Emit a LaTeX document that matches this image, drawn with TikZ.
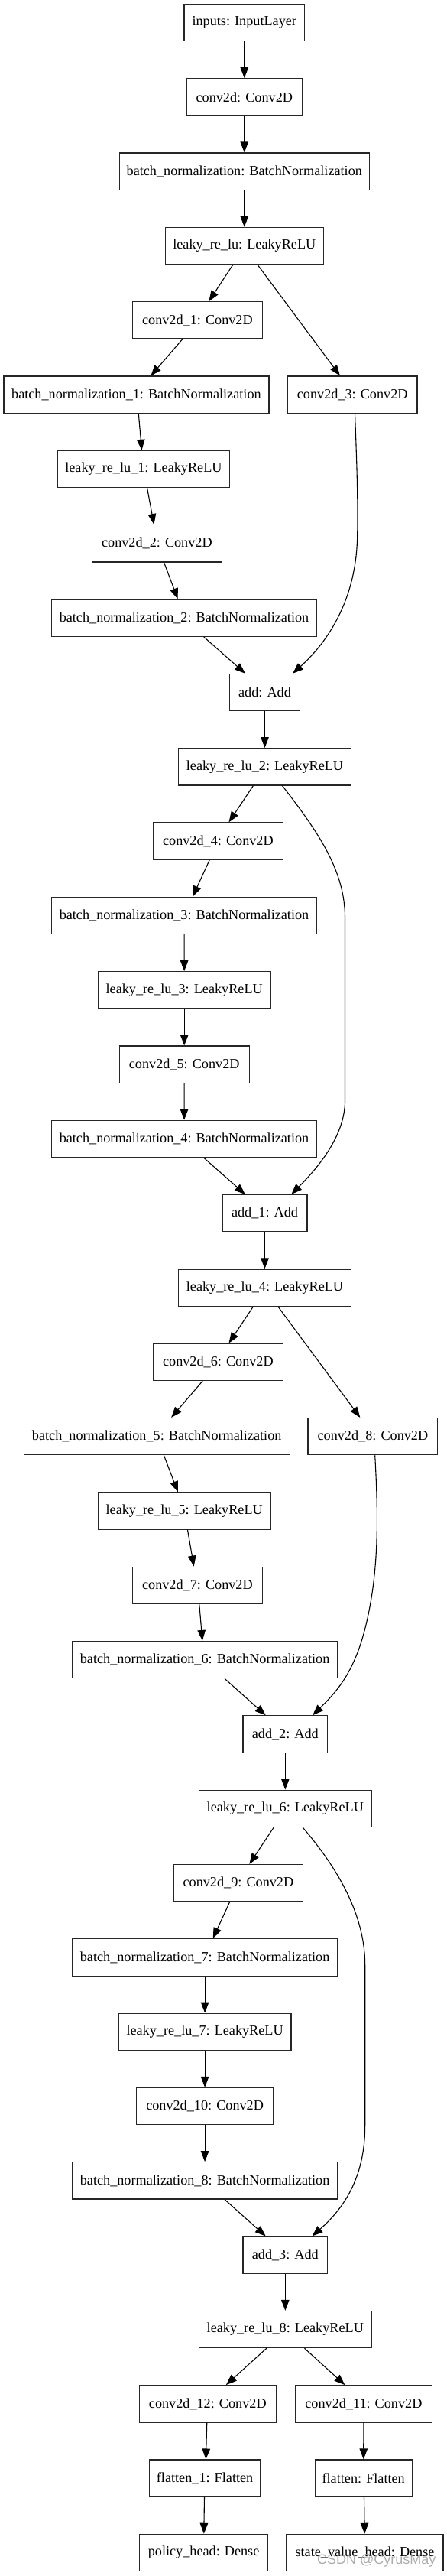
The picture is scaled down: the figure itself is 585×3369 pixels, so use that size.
\documentclass[tikz,border=0pt]{standalone}
\usepackage{fontspec}
\setmainfont{Liberation Serif}
\newfontfamily\wmfont{Liberation Sans}
\usetikzlibrary{arrows.meta}
\begin{document}
\begin{tikzpicture}[x=1pt,y=-1pt,
  box/.style={draw=black!85, line width=1.2pt, minimum height=48.3pt, inner xsep=3pt, inner ysep=0pt,
    font=\fontsize{18.2}{21}\selectfont, anchor=center},
  edge/.style={draw=black, line width=1.1pt, -{Triangle[length=14pt,width=10.5pt]}},
]
\useasboundingbox (0,0) rectangle (585,3369);
\def\R#1{{29.6+97.32*#1}}
% nodes
\node[box, minimum width=157.5pt] (in) at (319.8,\R{0}) {inputs: InputLayer};
\node[box, minimum width=150.7pt] (c0) at (319.8,\R{1}) {conv2d: Conv2D};
\node[box, minimum width=326.9pt] (bn0) at (319.8,\R{2}) {batch\_normalization: BatchNormalization};
\node[box, minimum width=206.7pt] (lk0) at (319.8,\R{3}) {leaky\_re\_lu: LeakyReLU};
\node[box, minimum width=169.8pt] (c1) at (258.4,\R{4}) {conv2d\_1: Conv2D};
\node[box, minimum width=347pt] (bn1) at (178.4,\R{5}) {batch\_normalization\_1: BatchNormalization};
\node[box, minimum width=169.4pt] (c3) at (461.2,\R{5}) {conv2d\_3: Conv2D};
\node[box, minimum width=225.7pt] (lk1) at (187.9,\R{6}) {leaky\_re\_lu\_1: LeakyReLU};
\node[box, minimum width=169.8pt] (c2) at (205.4,\R{7}) {conv2d\_2: Conv2D};
\node[box, minimum width=347pt] (bn2) at (241.0,\R{8}) {batch\_normalization\_2: BatchNormalization};
\node[box, minimum width=92.2pt] (ad0) at (346.5,\R{9}) {add: Add};
\node[box, minimum width=225.7pt] (lk2) at (346.5,\R{10}) {leaky\_re\_lu\_2: LeakyReLU};
\node[box, minimum width=169.4pt] (c4) at (285.4,\R{11}) {conv2d\_4: Conv2D};
\node[box, minimum width=347pt] (bn3) at (241.0,\R{12}) {batch\_normalization\_3: BatchNormalization};
\node[box, minimum width=225.7pt] (lk3) at (241.2,\R{13}) {leaky\_re\_lu\_3: LeakyReLU};
\node[box, minimum width=169.8pt] (c5) at (241.2,\R{14}) {conv2d\_5: Conv2D};
\node[box, minimum width=347pt] (bn4) at (241.0,\R{15}) {batch\_normalization\_4: BatchNormalization};
\node[box, minimum width=110.8pt] (ad1) at (346.5,\R{16}) {add\_1: Add};
\node[box, minimum width=225.7pt] (lk4) at (346.5,\R{17}) {leaky\_re\_lu\_4: LeakyReLU};
\node[box, minimum width=169.4pt] (c6) at (285.4,\R{18}) {conv2d\_6: Conv2D};
\node[box, minimum width=347.8pt] (bn5) at (205.2,\R{19}) {batch\_normalization\_5: BatchNormalization};
\node[box, minimum width=169.8pt] (c8) at (487.9,\R{19}) {conv2d\_8: Conv2D};
\node[box, minimum width=225.7pt] (lk5) at (241.2,\R{20}) {leaky\_re\_lu\_5: LeakyReLU};
\node[box, minimum width=169.8pt] (c7) at (258.4,\R{21}) {conv2d\_7: Conv2D};
\node[box, minimum width=346.6pt] (bn6) at (268.1,\R{22}) {batch\_normalization\_6: BatchNormalization};
\node[box, minimum width=110.8pt] (ad2) at (373.3,\R{23}) {add\_2: Add};
\node[box, minimum width=225.7pt] (lk6) at (373.3,\R{24}) {leaky\_re\_lu\_6: LeakyReLU};
\node[box, minimum width=169.4pt] (c9) at (311.9,\R{25}) {conv2d\_9: Conv2D};
\node[box, minimum width=346.6pt] (bn7) at (268.1,\R{26}) {batch\_normalization\_7: BatchNormalization};
\node[box, minimum width=225.7pt] (lk7) at (268.1,\R{27}) {leaky\_re\_lu\_7: LeakyReLU};
\node[box, minimum width=178.7pt] (c10) at (268.1,\R{28}) {conv2d\_10: Conv2D};
\node[box, minimum width=346.6pt] (bn8) at (268.1,\R{29}) {batch\_normalization\_8: BatchNormalization};
\node[box, minimum width=110.8pt] (ad3) at (373.3,\R{30}) {add\_3: Add};
\node[box, minimum width=225.7pt] (lk8) at (373.3,\R{31}) {leaky\_re\_lu\_8: LeakyReLU};
\node[box, minimum width=178.7pt] (c12) at (271.8,\R{32}) {conv2d\_12: Conv2D};
\node[box, minimum width=178.7pt] (c11) at (475.9,\R{32}) {conv2d\_11: Conv2D};
\node[box, minimum width=145.9pt] (fl1) at (268.1,\R{33}) {flatten\_1: Flatten};
\node[box, minimum width=126.9pt] (fl0) at (475.7,\R{33}) {flatten: Flatten};
\node[box, minimum width=168.3pt] (ph) at (266.6,\R{34}) {policy\_head: Dense};
\node[box, minimum width=205pt] (svh) at (477.5,\R{34}) {state\_value\_head: Dense};
% edges
\draw[edge] (in) -- (c0);
\draw[edge] (c0) -- (bn0);
\draw[edge] (bn0) -- (lk0);
\draw[edge] ([xshift=-15pt]lk0.south) -- ([xshift=15pt]c1.north);
\draw[edge] ([xshift=17.3pt]lk0.south) -- ([xshift=-16.2pt]c3.north);
\draw[edge] ([xshift=-19.6pt]c1.south) -- ([xshift=19pt]bn1.north);
\draw[edge] ([xshift=2.9pt]bn1.south) -- ([xshift=-2.4pt]lk1.north);
\draw[edge] ([xshift=4.7pt]lk1.south) -- ([xshift=-3.9pt]c2.north);
\draw[edge] ([xshift=9.2pt]c2.south) -- ([xshift=-8.3pt]bn2.north);
\draw[edge] ([xshift=25.7pt]bn2.south) -- ([xshift=-25.6pt]ad0.north);
\draw[edge] ([xshift=3.3pt]c3.south) .. controls (466.7,600) and (468.6,650) .. (467.7,700)
  .. controls (466.7,790) and (423,845) .. ([xshift=36.6pt]ad0.north);
\draw[edge] (ad0) -- (lk2);
\draw[edge] ([xshift=-15.1pt]lk2.south) -- ([xshift=14.1pt]c4.north);
\draw[edge] ([xshift=22.9pt]lk2.south) .. controls (418,1090) and (451.5,1140) .. (451.5,1200)
  -- (451.5,1440) .. controls (451.5,1490) and (408,1535) .. ([xshift=34.8pt]ad1.north);
\draw[edge] ([xshift=-11.2pt]c4.south) -- ([xshift=11.1pt]bn3.north);
\draw[edge] (bn3) -- (lk3);
\draw[edge] (lk3) -- (c5);
\draw[edge] (c5) -- (bn4);
\draw[edge] ([xshift=25.7pt]bn4.south) -- ([xshift=-25.6pt]ad1.north);
\draw[edge] (ad1) -- (lk4);
\draw[edge] ([xshift=-15.1pt]lk4.south) -- ([xshift=14.1pt]c6.north);
\draw[edge] ([xshift=17.3pt]lk4.south) -- ([xshift=-16.6pt]c8.north);
\draw[edge] ([xshift=-20.2pt]c6.south) -- ([xshift=18.9pt]bn5.north);
\draw[edge] ([xshift=9.3pt]bn5.south) -- ([xshift=-8.4pt]lk5.north);
\draw[edge] ([xshift=4.3pt]lk5.south) -- ([xshift=-4.7pt]c7.north);
\draw[edge] ([xshift=2.4pt]c7.south) -- ([xshift=-3.2pt]bn6.north);
\draw[edge] ([xshift=2.8pt]c8.south) .. controls (495.5,1990) and (495.5,2060) .. (477.7,2130)
  .. controls (462.7,2190) and (437.8,2215) .. ([xshift=35.9pt]ad2.north);
\draw[edge] ([xshift=26pt]bn6.south) -- ([xshift=-25.6pt]ad2.north);
\draw[edge] (ad2) -- (lk6);
\draw[edge] ([xshift=-15.1pt]lk6.south) -- ([xshift=14.5pt]c9.north);
\draw[edge] ([xshift=22.9pt]lk6.south) .. controls (447.8,2450) and (477.7,2510) .. (477.7,2570)
  -- (477.7,2780) .. controls (477.7,2850) and (447.8,2890) .. ([xshift=35.2pt]ad3.north);
\draw[edge] ([xshift=-11.2pt]c9.south) -- ([xshift=10.6pt]bn7.north);
\draw[edge] (bn7) -- (lk7);
\draw[edge] (lk7) -- (c10);
\draw[edge] (c10) -- (bn8);
\draw[edge] ([xshift=26pt]bn8.south) -- ([xshift=-25.6pt]ad3.north);
\draw[edge] (ad3) -- (lk8);
\draw[edge] ([xshift=-24.5pt]lk8.south) -- ([xshift=24pt]c12.north);
\draw[edge] ([xshift=25.2pt]lk8.south) -- ([xshift=-24.5pt]c11.north);
\draw[edge] ([xshift=-1pt]c12.south) -- ([xshift=1.3pt]fl1.north);
\draw[edge] (c11) -- (fl0);
\draw[edge] ([xshift=-0.6pt]fl1.south) -- ([xshift=0.2pt]ph.north);
\draw[edge] ([xshift=0.8pt]fl0.south) -- ([xshift=-0.3pt]svh.north);
% watermark
\node[text=black!38, opacity=0.85, font=\wmfont\fontsize{18}{20}\selectfont, inner sep=0pt] (wm) at (492.7,3348.5) {CSDN @CyrusMay};
\end{tikzpicture}
\end{document}
